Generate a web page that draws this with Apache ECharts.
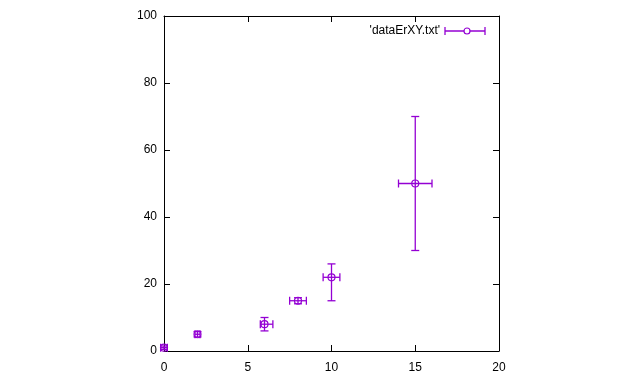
<!DOCTYPE html>
<html><head><meta charset="utf-8">
<script src="https://cdn.jsdelivr.net/npm/echarts@6/dist/echarts.min.js"></script>
<style>html,body{margin:0;padding:0;background:#fff}#c{width:640px;height:384px}</style>
</head><body><div id="c"></div>
<script>
const xs    = [0,    2,    6,    8,    10,   15];
const ys    = [1,    5,    8,    15,   22,   50];
const xLow  = [-0.2, 1.85, 5.75, 7.5,  9.5,  14];
const xHigh = [0.2,  2.15, 6.5,  8.5,  10.5, 16];
const yLow  = [0.5,  4.2,  6,    14.1, 15,   30];
const yHigh = [1.5,  5.8,  10,   15.9, 26,   70];
const xTicks = [0, 5, 10, 15, 20];
const yTicks = [0, 20, 40, 60, 80, 100];
const seriesName = "'dataErXY.txt'";

const color = '#9400D3';
const font = 'Liberation Sans';
const data = xs.map((x, i) => [x, ys[i], xLow[i], xHigh[i], yLow[i], yHigh[i]]);

const chart = echarts.init(document.getElementById('c'));
const axisCommon = {
  axisLine: {show: true, onZero: false, lineStyle: {color: '#000', width: 1}},
  axisTick: {show: true, inside: true, length: 6, lineStyle: {color: '#000'}},
  splitLine: {show: false}
};
function errRender(params, api) {
  const x = api.value(0), y = api.value(1);
  const c = api.coord([x, y]);
  const l = api.coord([api.value(2), y]);
  const r = api.coord([api.value(3), y]);
  const b = api.coord([x, api.value(4)]);
  const t = api.coord([x, api.value(5)]);
  const cap = 4;
  const st = {stroke: color, lineWidth: 1.3, fill: null};
  const line = (x1, y1, x2, y2) => ({type: 'line', shape: {x1, y1, x2, y2}, style: st});
  return {type: 'group', children: [
    line(l[0], c[1], r[0], c[1]),
    line(l[0], c[1] - cap, l[0], c[1] + cap),
    line(r[0], c[1] - cap, r[0], c[1] + cap),
    line(c[0], b[1], c[0], t[1]),
    line(c[0] - cap, b[1], c[0] + cap, b[1]),
    line(c[0] - cap, t[1], c[0] + cap, t[1]),
    {type: 'circle', shape: {cx: c[0], cy: c[1], r: 3.5}, style: {stroke: color, lineWidth: 1.2, fill: null}}
  ]};
}
chart.setOption({
  animation: false,
  grid: {left: 164, right: 141, top: 16, bottom: 33},
  xAxis: [
    Object.assign({type: 'value', min: xTicks[0], max: xTicks[xTicks.length - 1], interval: 5, position: 'bottom',
      axisLabel: {color: '#000', fontFamily: font, fontSize: 12, margin: 11}}, axisCommon),
    Object.assign({type: 'value', min: xTicks[0], max: xTicks[xTicks.length - 1], interval: 5, position: 'top',
      axisLabel: {show: false}}, axisCommon)
  ],
  yAxis: [
    Object.assign({type: 'value', min: yTicks[0], max: yTicks[yTicks.length - 1], interval: 20, position: 'left',
      axisLabel: {color: '#000', fontFamily: font, fontSize: 12, margin: 7}}, axisCommon),
    Object.assign({type: 'value', min: yTicks[0], max: yTicks[yTicks.length - 1], interval: 20, position: 'right',
      axisLabel: {show: false}}, axisCommon)
  ],
  series: [{
    type: 'custom', name: seriesName, renderItem: errRender, data: data,
    encode: {x: 0, y: 1}, clip: false
  }],
  graphic: [{
    type: 'group', x: 369, y: 24,
    children: [
      {type: 'text', x: 71, y: 7, style: {text: seriesName, fontFamily: font, fontSize: 12, fill: '#000', textAlign: 'right', textVerticalAlign: 'middle'}},
      {type: 'line', shape: {x1: 76, y1: 7, x2: 116, y2: 7}, style: {stroke: color, lineWidth: 1.3}},
      {type: 'line', shape: {x1: 76, y1: 3, x2: 76, y2: 11}, style: {stroke: color, lineWidth: 1.3}},
      {type: 'line', shape: {x1: 116, y1: 3, x2: 116, y2: 11}, style: {stroke: color, lineWidth: 1.3}},
      {type: 'circle', shape: {cx: 98, cy: 7, r: 3}, style: {stroke: color, lineWidth: 1.2, fill: '#fff'}}
    ]
  }]
});
</script></body></html>
